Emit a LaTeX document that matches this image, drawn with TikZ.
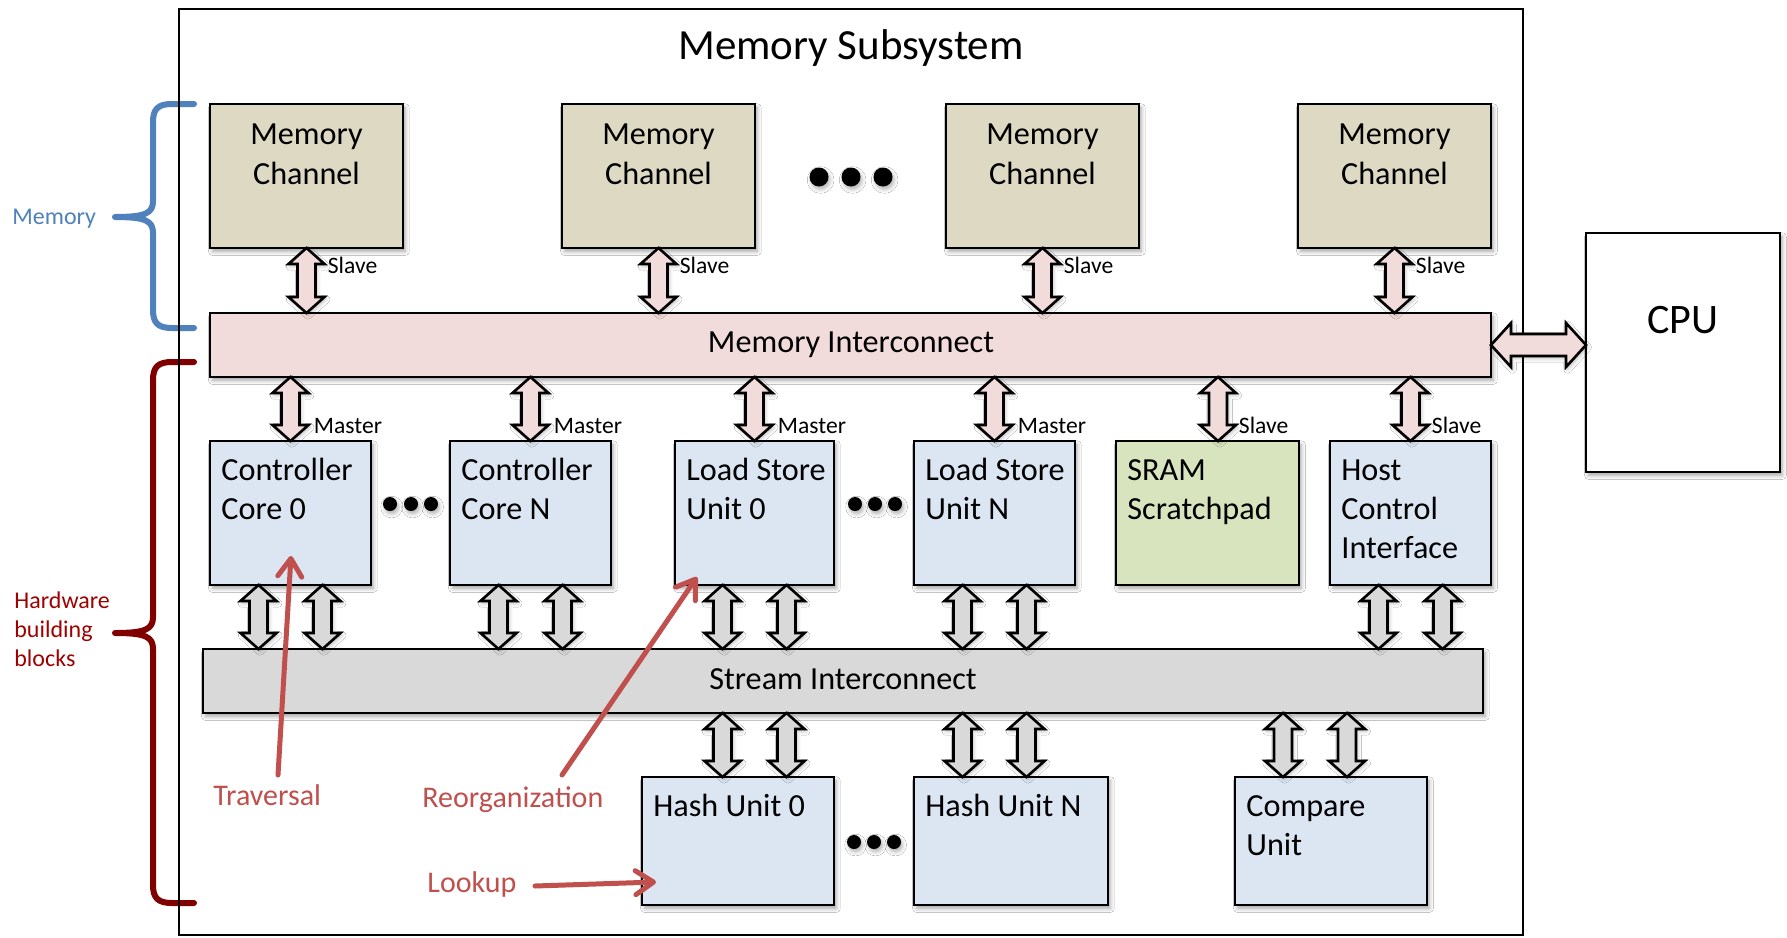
\documentclass[tikz,border=0pt]{standalone}
\usepackage{fontspec}
\setmainfont{Carlito}
\usetikzlibrary{fit,calc,arrows.meta,shadows.blur}

\definecolor{chanfill}{HTML}{DDD9C3}
\definecolor{memicfill}{HTML}{F2DCDB}
\definecolor{unitfill}{HTML}{DCE6F2}
\definecolor{sramfill}{HTML}{D7E4BD}
\definecolor{streamfill}{HTML}{D9D9D9}
\definecolor{annot}{HTML}{C0504D}
\definecolor{memblue}{HTML}{4F81BD}
\definecolor{hwbrace}{HTML}{800000}
\definecolor{hwtext}{HTML}{A00000}

% multi-line text whose baseline is that of its first line
\newcommand\leftlines[1]{\vtop{\halign{##\hfil\cr#1\crcr}}}
\newcommand\centerlines[1]{\vtop{\halign{\hfil##\hfil\cr#1\crcr}}}

% vertical block arrow between two stacked nodes, at the x of point #1
\newcommand\vbus[4]{%
  \draw[busarrow, fill=#4] let \p0=#1, \p1=(#2.south), \p2=(#3.north) in
    (\x0,\y1) -- (\x0+9pt,\y1-8pt) -- (\x0+4.5pt,\y1-8pt) -- (\x0+4.5pt,\y2+8pt)
    -- (\x0+9pt,\y2+8pt) -- (\x0,\y2) -- (\x0-9pt,\y2+8pt) -- (\x0-4.5pt,\y2+8pt)
    -- (\x0-4.5pt,\y1-8pt) -- (\x0-9pt,\y1-8pt) -- cycle;}
% horizontal block arrow between two side-by-side nodes
\newcommand\hbus[3]{%
  \draw[busarrow, fill=#3] let \p1=(#1.east), \p2=(#2.west) in
    (\x1,\y1) -- (\x1+10pt,\y1+11pt) -- (\x1+10pt,\y1+5.5pt) -- (\x2-10pt,\y1+5.5pt)
    -- (\x2-10pt,\y1+11pt) -- (\x2,\y1) -- (\x2-10pt,\y1-11pt) -- (\x2-10pt,\y1-5.5pt)
    -- (\x1+10pt,\y1-5.5pt) -- (\x1+10pt,\y1-11pt) -- cycle;}

\begin{document}
\begin{tikzpicture}[x=0.5pt,y=-0.5pt,
  box/.style={draw, line width=1.4pt, inner sep=0pt, outer sep=0pt,
    blur shadow={shadow xshift=1.2pt, shadow yshift=-1.8pt, shadow blur steps=6, shadow opacity=35}},
  chan/.style={box, fill=chanfill},
  unit/.style={box, fill=unitfill},
  busarrow/.style={draw, line width=1.3pt, line join=miter,
    blur shadow={shadow xshift=0.8pt, shadow yshift=-1.2pt, shadow blur steps=4, shadow opacity=25}},
  boxtext/.style={font=\fontsize{16.1}{19.5}\selectfont, inner sep=0pt, anchor=base west},
  chantext/.style={font=\fontsize{16.1}{20}\selectfont, inner sep=0pt, anchor=base},
  bustext/.style={font=\fontsize{16.1}{19}\selectfont, inner sep=0pt, anchor=base},
  porttag/.style={font=\fontsize{11.8}{14}\selectfont, inner sep=0pt, anchor=base west},
  bigdot/.style={circle, fill=black, inner sep=0pt, minimum size=9.5pt,
    blur shadow={shadow xshift=0.8pt, shadow yshift=-1.5pt, shadow blur steps=4, shadow opacity=30}},
  smalldot/.style={bigdot, minimum size=7pt},
  note/.style={font=\fontsize{15}{17}\selectfont, text=annot, inner sep=0pt, anchor=base west},
  notearrow/.style={draw=annot, line width=2.5pt, line cap=round,
    -{Straight Barb[length=9pt, width=12pt, line cap=round, line join=round]}},
  brace/.style={line width=3pt, line cap=round, line join=round},
  sidelabel/.style={font=\fontsize{12}{14.5}\selectfont, inner sep=0pt, anchor=base west}
]
\useasboundingbox (0,0) rectangle (1787,937);
\fill[white] (0,0) rectangle (1787,937);

% side braces
\draw[brace, memblue] (194,104) -- (172,104) .. controls (158,104) and (153,109) .. (153,122)
  -- (153,201) .. controls (153,213) and (146,217) .. (115,217)
  .. controls (146,217) and (153,221) .. (153,233) -- (153,310)
  .. controls (153,323) and (158,328) .. (172,328) -- (194,328);
\draw[brace, hwbrace] (194,362) -- (172,362) .. controls (158,362) and (153,367) .. (153,380)
  -- (153,617) .. controls (153,629) and (146,633) .. (115,633)
  .. controls (146,633) and (153,637) .. (153,649) -- (153,885)
  .. controls (153,898) and (158,903) .. (172,903) -- (194,903);
\node[sidelabel, text=memblue] (memlabel) at (12,224) {Memory};
\node[sidelabel, text=hwtext] (hwlabel) at (14,608) {\leftlines{Hardware\cr building\cr blocks}};

% enclosing subsystem
\node[draw, line width=1pt, inner sep=0pt, fit={(179,9) (1523,935)}] (subsys) {};
\node[font=\fontsize{21.5}{25}\selectfont, inner sep=0pt, anchor=base] (title) at (851,59) {Memory Subsystem};

% memory channels
\node[chan, fit={(210,104) (403,248)}] (mc1) {};
\node[chan, fit={(562,104) (755,248)}] (mc2) {};
\node[chan, fit={(946,104) (1139,248)}] (mc3) {};
\node[chan, fit={(1298,104) (1491,248)}] (mc4) {};
\foreach \c in {mc1,mc2,mc3,mc4}
  \node[chantext] (\c-t) at ($(\c.north)+(0,40)$) {\centerlines{Memory\cr Channel}};
\node[bigdot] (td1) at (819,177) {};
\node[bigdot] (td2) at (851,177) {};
\node[bigdot] (td3) at (883,177) {};

% memory interconnect and host CPU
\node[box, fill=memicfill, fit={(210,313) (1491,377)}] (memic) {};
\node[bustext] (memic-t) at (851,352) {Memory Interconnect};
\node[box, fill=white, fit={(1586,233) (1780,472)}] (cpu) {};
\node[font=\fontsize{21}{25}\selectfont, inner sep=0pt, anchor=base] (cpu-t) at (1683,333) {CPU};

% building blocks
\node[unit, fit={(210,441) (371,585)}] (cc0) {};
\node[unit, fit={(450,441) (611,585)}] (ccn) {};
\node[unit, fit={(675,441) (834,585)}] (lsu0) {};
\node[unit, fit={(914,441) (1075,585)}] (lsun) {};
\node[box, fill=sramfill, fit={(1116,441) (1299,585)}] (sram) {};
\node[unit, fit={(1330,441) (1491,585)}] (hci) {};
\node[boxtext] (cc0-t) at ($(cc0.north west)+(11,39)$) {\leftlines{Controller\cr Core 0}};
\node[boxtext] (ccn-t) at ($(ccn.north west)+(11,39)$) {\leftlines{Controller\cr Core N}};
\node[boxtext] (lsu0-t) at ($(lsu0.north west)+(11,39)$) {\leftlines{Load Store\cr Unit 0}};
\node[boxtext] (lsun-t) at ($(lsun.north west)+(11,39)$) {\leftlines{Load Store\cr Unit N}};
\node[boxtext] (sram-t) at ($(sram.north west)+(11,39)$) {\leftlines{SRAM\cr Scratchpad}};
\node[boxtext] (hci-t) at ($(hci.north west)+(11,39)$) {\leftlines{Host\cr Control\cr Interface}};
\node[smalldot] (cd1) at (390,504) {};
\node[smalldot] (cd2) at (411,504) {};
\node[smalldot] (cd3) at (431,504) {};
\node[smalldot] (ld1) at (855,504) {};
\node[smalldot] (ld2) at (875,504) {};
\node[smalldot] (ld3) at (895,504) {};

% stream interconnect
\node[box, fill=streamfill, fit={(203,649) (1483,713)}] (stream) {};
\node[bustext] (stream-t) at (843,689) {Stream Interconnect};

% stream units
\node[unit, fit={(642,777) (834,905)}] (hash0) {};
\node[unit, fit={(914,777) (1108,905)}] (hashn) {};
\node[unit, fit={(1235,777) (1427,905)}] (cmp) {};
\node[boxtext] (hash0-t) at ($(hash0.north west)+(11,39)$) {Hash Unit 0};
\node[boxtext] (hashn-t) at ($(hashn.north west)+(11,39)$) {Hash Unit N};
\node[boxtext] (cmp-t) at ($(cmp.north west)+(11,39)$) {\leftlines{Compare\cr Unit}};
\node[smalldot] (hd1) at (854,842) {};
\node[smalldot] (hd2) at (874,842) {};
\node[smalldot] (hd3) at (894,842) {};

% channel ports
\foreach \c in {mc1,mc2,mc3,mc4}{
  \vbus{(\c.south)}{\c}{memic}{memicfill}
  \node[porttag] (\c-p) at ($(\c.south)+(21,25)$) {Slave};
}
% interconnect ports of the building blocks
\foreach \u in {cc0,ccn,lsu0,lsun}{
  \vbus{(\u.north)}{memic}{\u}{memicfill}
  \node[porttag] (\u-p) at ($(\u.north)+(23,-8)$) {Master};
}
\vbus{($(sram.north)+(10.5,0)$)}{memic}{sram}{memicfill}
\node[porttag] (sram-p) at ($(sram.north)+(31,-8)$) {Slave};
\vbus{(hci.north)}{memic}{hci}{memicfill}
\node[porttag] (hci-p) at ($(hci.north)+(21,-8)$) {Slave};
\hbus{memic}{cpu}{memicfill}

% stream links
\foreach \u in {cc0,ccn,lsu0,lsun,hci}{
  \vbus{($(\u.south)+(-32,0)$)}{\u}{stream}{streamfill}
  \vbus{($(\u.south)+(32,0)$)}{\u}{stream}{streamfill}
}
\vbus{($(lsu0.south)+(-32,0)$)}{stream}{hash0}{streamfill}
\vbus{($(lsu0.south)+(32,0)$)}{stream}{hash0}{streamfill}
\vbus{($(lsun.south)+(-32,0)$)}{stream}{hashn}{streamfill}
\vbus{($(lsun.south)+(32,0)$)}{stream}{hashn}{streamfill}
\vbus{($(cmp.north)+(-48,0)$)}{stream}{cmp}{streamfill}
\vbus{($(cmp.north)+(16,0)$)}{stream}{cmp}{streamfill}

% access pattern annotations
\node[note] (trav) at (213,805) {Traversal};
\node[note] (reorg) at (422,807) {Reorganization};
\node[note] (look) at (427,892) {Lookup};
\coordinate (trav-tail) at (278,775);
\coordinate (trav-tip) at (291,556);
\coordinate (reorg-tail) at (562,775);
\coordinate (reorg-tip) at (697,577);
\coordinate (look-tail) at (535,886);
\coordinate (look-tip) at (656,882);
\draw[notearrow] (trav-tail) -- (trav-tip);
\draw[notearrow] (reorg-tail) -- (reorg-tip);
\draw[notearrow] (look-tail) -- (look-tip);
\end{tikzpicture}
\end{document}
